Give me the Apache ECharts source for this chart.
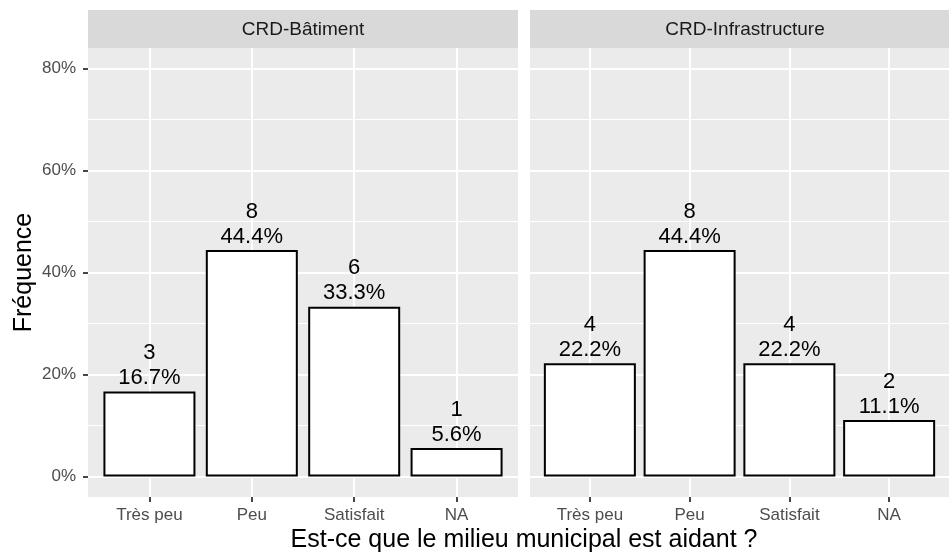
<!DOCTYPE html>
<html style="height: 100%">

<head>
    <meta charset="utf-8">
</head>

<body style="height: 100%; margin: 0; background: #fff">
    <div id="main" style="width: 949px; height: 552px"></div>
    <script type="text/javascript" src="https://cdn.jsdelivr.net/npm/echarts@6/dist/echarts.min.js"></script>
    <script type="text/javascript">

        var categories = ['Très peu', 'Peu', 'Satisfait', 'NA'];
        var facets = ['CRD-Bâtiment', 'CRD-Infrastructure'];
        // counts and percentages per facet
        var batimentCounts = [3, 8, 6, 1];
        var batimentPct = [16.7, 44.4, 33.3, 5.6];
        var infraCounts = [4, 8, 4, 2];
        var infraPct = [22.2, 44.4, 22.2, 11.1];
        var yTicks = [0, 20, 40, 60, 80];
        var yMinor = [10, 30, 50, 70];

        var chartDom = document.getElementById('main');
        var myChart = echarts.init(chartDom);

        var FONT = 'Liberation Sans, Arial, sans-serif';

        function makeXAxis(idx) {
            return {
                type: 'value',
                gridIndex: idx,
                min: -0.6,
                max: 3.6,
                axisLine: { show: false, onZero: false },
                axisTick: {
                    customValues: [0, 1, 2, 3],
                    length: 5,
                    lineStyle: { color: '#333333', width: 1.8 }
                },
                axisLabel: {
                    customValues: [0, 1, 2, 3],
                    margin: 10,
                    color: '#4D4D4D',
                    fontSize: 17,
                    fontFamily: FONT,
                    formatter: function (v) { return categories[Math.round(v)]; }
                },
                splitLine: { show: true, lineStyle: { color: '#FFFFFF', width: 2 } }
            };
        }

        function makeYAxis(idx) {
            return {
                type: 'value',
                gridIndex: idx,
                min: -4,
                max: 84,
                name: idx === 0 ? 'Fréquence' : '',
                nameLocation: 'middle',
                nameGap: 51,
                nameTextStyle: { color: '#000', fontSize: 25, fontFamily: FONT },
                axisLine: { show: false, onZero: false },
                axisTick: {
                    show: idx === 0,
                    customValues: yTicks,
                    length: 5,
                    lineStyle: { color: '#333333', width: 1.8 }
                },
                axisLabel: {
                    show: idx === 0,
                    customValues: yTicks,
                    margin: 12,
                    color: '#4D4D4D',
                    fontSize: 17,
                    fontFamily: FONT,
                    formatter: '{value}%'
                },
                splitLine: { show: true, lineStyle: { color: '#FFFFFF', width: 2 } }
            };
        }

        function makeSeries(idx, counts, pct) {
            return {
                type: 'bar',
                xAxisIndex: idx,
                yAxisIndex: idx,
                barWidth: 92,
                data: pct.map(function (v, i) { return [i, v]; }),
                itemStyle: { color: '#FFFFFF', borderColor: '#000000', borderWidth: 2 },
                label: {
                    show: true,
                    position: 'top',
                    distance: 1,
                    color: '#000',
                    fontSize: 22,
                    lineHeight: 25,
                    fontFamily: FONT,
                    formatter: function (p) {
                        return counts[p.dataIndex] + '\n' + pct[p.dataIndex].toFixed(1) + '%';
                    }
                },
                markLine: {
                    silent: true,
                    z: 1,
                    symbol: 'none',
                    label: { show: false },
                    lineStyle: { color: '#FFFFFF', width: 1, type: 'solid' },
                    data: yMinor.map(function (v) { return { yAxis: v }; })
                }
            };
        }

        var option = {
            animation: false,
            grid: [
                { left: 88, top: 48, width: 430, height: 449, show: true, backgroundColor: '#EBEBEB', borderWidth: 0 },
                { left: 530, top: 48, width: 430, height: 449, show: true, backgroundColor: '#EBEBEB', borderWidth: 0 }
            ],
            xAxis: [makeXAxis(0), makeXAxis(1)],
            yAxis: [makeYAxis(0), makeYAxis(1)],
            graphic: [
                { type: 'rect', shape: { x: 88, y: 10, width: 430, height: 38 }, style: { fill: '#D9D9D9' } },
                { type: 'rect', shape: { x: 530, y: 10, width: 430, height: 38 }, style: { fill: '#D9D9D9' } },
                { type: 'text', x: 303, y: 30, style: { text: facets[0], fill: '#1A1A1A', font: '19px ' + FONT, textAlign: 'center', textVerticalAlign: 'middle' } },
                { type: 'text', x: 745, y: 30, style: { text: facets[1], fill: '#1A1A1A', font: '19px ' + FONT, textAlign: 'center', textVerticalAlign: 'middle' } },
                { type: 'text', x: 524, y: 540, style: { text: 'Est-ce que le milieu municipal est aidant ?', fill: '#000', font: '25px ' + FONT, textAlign: 'center', textVerticalAlign: 'middle' } }
            ],
            series: [
                makeSeries(0, batimentCounts, batimentPct),
                makeSeries(1, infraCounts, infraPct)
            ]
        };

        myChart.setOption(option);

    </script>
</body>

</html>
